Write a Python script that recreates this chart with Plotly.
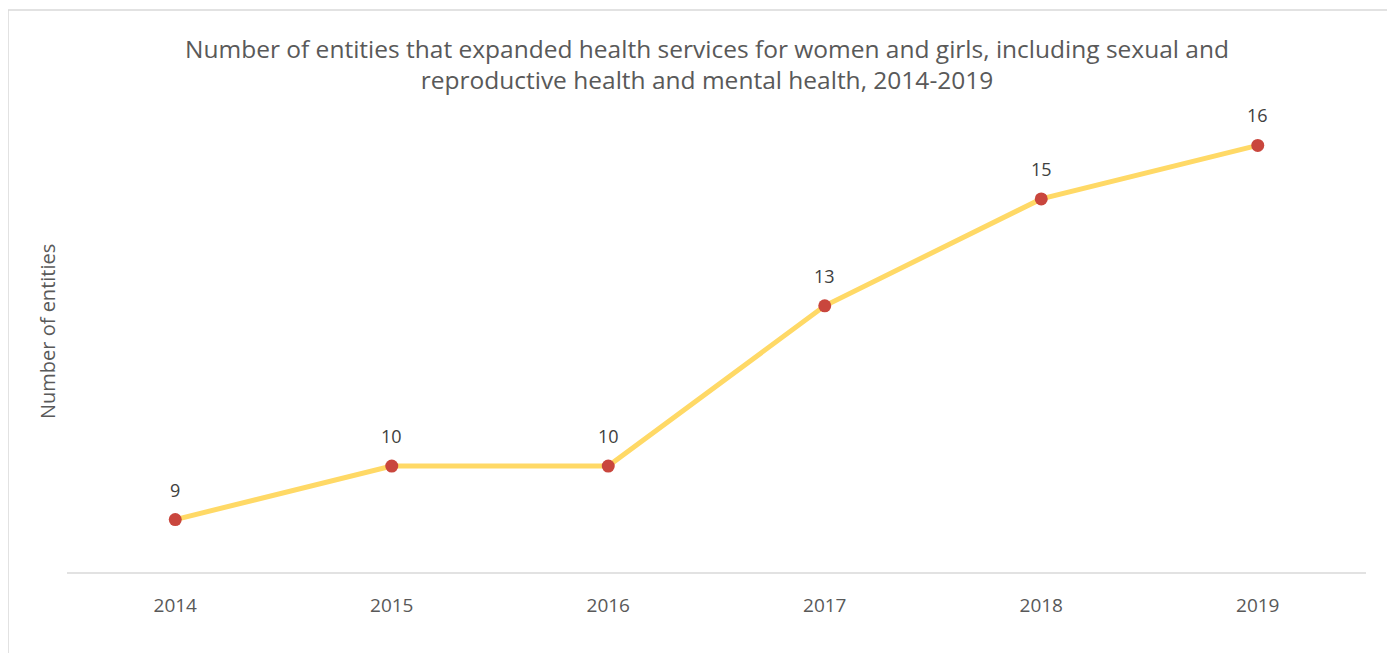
import plotly.graph_objects as go

years = ["2014", "2015", "2016", "2017", "2018", "2019"]
entities = [9, 10, 10, 13, 15, 16]
title_text = ("Number of entities that expanded health services for women and girls, including sexual and<br>"
              "reproductive health and mental health, 2014-2019")
y_title = "Number of entities"

FONT = "Open Sans, Liberation Sans, sans-serif"
OFF = 8  # page offset of the figure
W, H = 1379, 645
ml, mr, mt, mb = 67 - OFF, W + OFF - 1366, 92 - OFF, H + OFF - 573
pw, ph = W - ml - mr, H - mt - mb

fig = go.Figure()
fig.add_trace(go.Scatter(
    x=years, y=entities,
    mode="lines+markers",
    line=dict(color="#FFD966", width=5),
    marker=dict(color="#C9463D", size=13),
    cliponaxis=False,
    hoverinfo="x+y",
))

for i, v in enumerate(entities):
    fig.add_annotation(x=i, y=v, xref="x", yref="y", text=str(v), showarrow=False, yshift=30,
                       font=dict(family=FONT, size=18, color="#404040"))

fig.add_annotation(xref="paper", yref="paper",
                   x=(47 - OFF - ml) / pw, y=(573 - 332) / ph,
                   xanchor="center", yanchor="middle",
                   text=y_title, textangle=-90, showarrow=False,
                   font=dict(family=FONT, size=20, color="#595959"))

fig.update_layout(
    width=W, height=H,
    margin=dict(l=ml, r=mr, t=mt, b=mb),
    paper_bgcolor="white", plot_bgcolor="white",
    showlegend=False,
    title=dict(text=title_text, x=(707 - OFF) / W, xanchor="center",
               y=1 - (57.5 - OFF) / H, yanchor="middle",
               font=dict(family=FONT, size=24.5, color="#595959")),
    xaxis=dict(type="category", range=[-0.5, 5.5], showgrid=False, zeroline=False,
               showline=False, ticks="", ticklabelstandoff=19,
               tickfont=dict(family=FONT, size=19, color="#595959")),
    yaxis=dict(range=[8, 17], showgrid=False, zeroline=False, showline=False,
               showticklabels=False, ticks=""),
    font=dict(family=FONT),
)

# x axis baseline
fig.add_shape(type="line", xref="paper", yref="paper", x0=0, x1=1, y0=0, y1=0,
              line=dict(color="#D9D9D9", width=1.5))
# outer chart border
fig.add_shape(type="rect", xref="paper", yref="paper",
              x0=(0 - ml) / pw, x1=(W + 20 - ml) / pw,
              y0=-(mb + 20) / ph, y1=(H - mb - 2) / ph,
              line=dict(color="#D9D9D9", width=1.5), fillcolor="rgba(0,0,0,0)", layer="below")

fig.write_html("out.html")
